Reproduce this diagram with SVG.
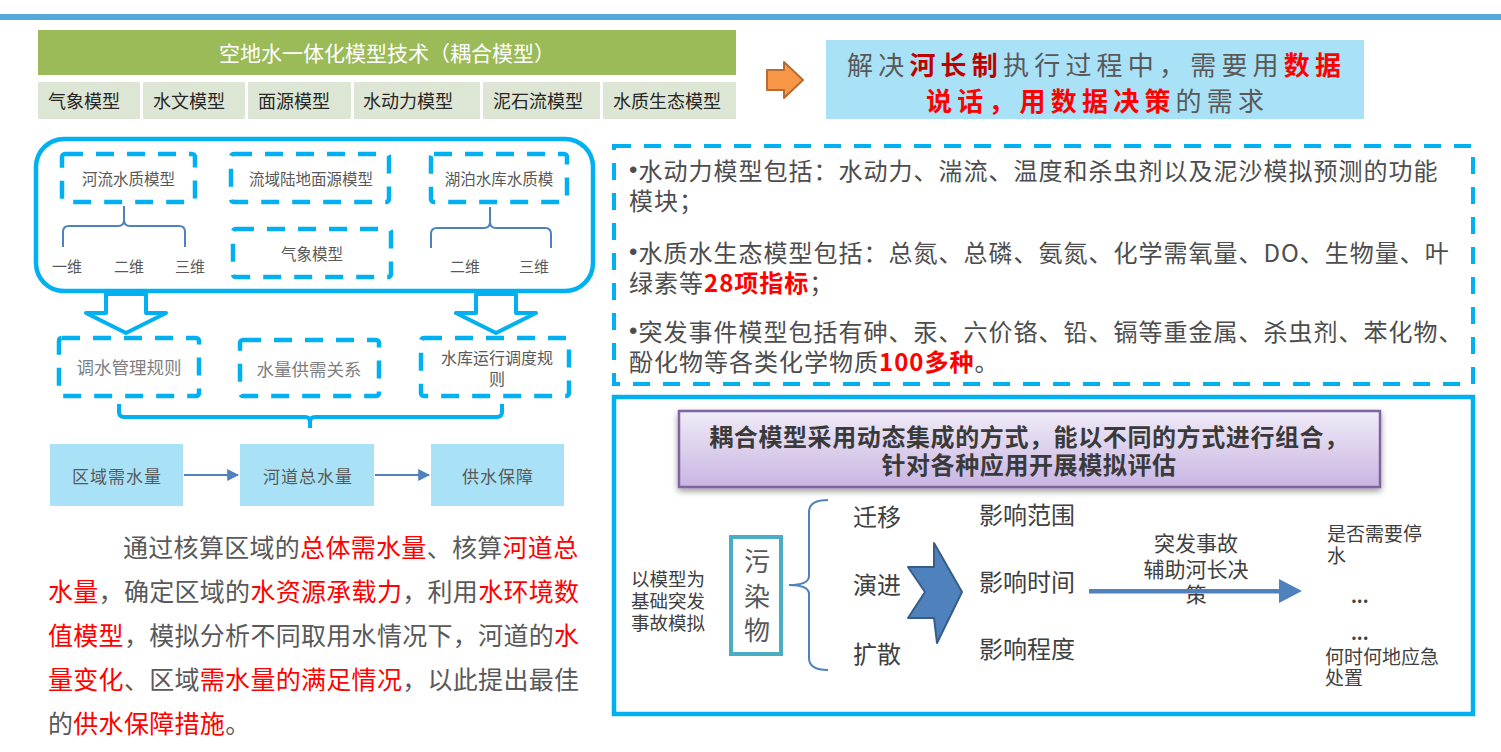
<svg xmlns="http://www.w3.org/2000/svg" width="1501" height="752" viewBox="0 0 1501 752">
<defs>
<style>
text{font-family:"Noto Sans CJK SC","Liberation Sans",sans-serif;dominant-baseline:central}
.bul{font-family:"Liberation Sans",sans-serif}
.dash{fill:#fff;stroke:#00B0F0;stroke-width:4.5;stroke-dasharray:18 13}
.pdash{fill:none;stroke:#00B0F0;stroke-width:4;stroke-dasharray:17 13}
.g{fill:#595959}
.dk{fill:#404040}
.lg{fill:#7F7F7F}
.r{fill:#FF0000}
.rb{fill:#FF0000;font-weight:bold}
.drb{fill:#C00000;font-weight:bold}
.cell{fill:#DDE6D4}
.cy{fill:#A9E2F7}
.brace{fill:none;stroke:#4F81BD;stroke-width:2}
.c{text-anchor:middle}
.conn{stroke:#4F81BD;stroke-width:2;fill:none}
.barrow{fill:#fff;stroke:#00B0F0;stroke-width:4;stroke-linejoin:round}
</style>
<linearGradient id="pg" x1="0" y1="0" x2="0" y2="1"><stop offset="0" stop-color="#F0EBF7"/><stop offset="1" stop-color="#C8B5E2"/></linearGradient>
<filter id="sh" x="-5%" y="-20%" width="110%" height="150%"><feGaussianBlur in="SourceAlpha" stdDeviation="3"/><feOffset dy="3"/><feComponentTransfer><feFuncA type="linear" slope="0.4"/></feComponentTransfer><feMerge><feMergeNode/><feMergeNode in="SourceGraphic"/></feMerge></filter>
<marker id="ah" viewBox="0 0 10 10" refX="9" refY="5" markerWidth="6" markerHeight="6" orient="auto"><path d="M0,0 L10,5 L0,10 z" fill="#4F81BD"/></marker>
</defs>
<rect width="1501" height="752" fill="#fff"/>
<rect x="0" y="14" width="1501" height="6" fill="#55A9DA"/>

<g id="header">
<rect x="38" y="30" width="698" height="45" fill="#9BBB59"/>
<text x="387" y="52" class="c" fill="#fff" font-size="21">空地水一体化模型技术（耦合模型）</text>
</g>
<g id="model-cells" font-size="18" fill="#262626">
<rect class="cell" x="38" y="82" width="102" height="37"/><text x="48" y="100">气象模型</text>
<rect class="cell" x="143" y="82" width="102" height="37"/><text x="153" y="100">水文模型</text>
<rect class="cell" x="248" y="82" width="103" height="37"/><text x="258" y="100">面源模型</text>
<rect class="cell" x="354" y="82" width="126" height="37"/><text x="363" y="100">水动力模型</text>
<rect class="cell" x="483" y="82" width="117" height="37"/><text x="493" y="100">泥石流模型</text>
<rect class="cell" x="603" y="82" width="133" height="37"/><text x="613" y="100">水质生态模型</text>
</g>

<g id="orange-arrow">
<path d="M767,70 L784,70 L784,62 L803,80 L784,98 L784,90 L767,90 Z" fill="#F79646" stroke="#B66D31" stroke-width="2" stroke-linejoin="round"/>
</g>
<g id="goal-box">
<rect x="826" y="40" width="538" height="79" fill="#A9E2F7"/>
<text x="847" y="63" font-size="26" letter-spacing="5.2" class="g"><tspan>解决</tspan><tspan class="drb">河长制</tspan><tspan>执行过程中，需要用</tspan><tspan class="rb">数据</tspan></text>
<text x="926" y="99" font-size="26" letter-spacing="5.2" class="g"><tspan class="rb">说话，用数据决策</tspan><tspan>的需求</tspan></text>
</g>

<g id="model-group">
<rect x="36" y="139" width="557" height="152" rx="28" fill="none" stroke="#00B0F0" stroke-width="4.5"/>
</g>
<g id="river-wq" font-size="15.5">
<rect class="dash" x="62" y="154" width="133" height="48" rx="3"/>
<text x="128.5" y="178" class="c g">河流水质模型</text>
</g>
<g id="basin-land" font-size="15.5">
<rect class="dash" x="231" y="154" width="158" height="48" rx="3"/>
<text x="311" y="178" class="c g">流域陆地面源模型</text>
</g>
<g id="lake-wq" font-size="15.5">
<rect class="dash" x="431" y="154" width="136" height="48" rx="3"/>
<text x="499" y="178" class="c g">湖泊水库水质模</text>
</g>
<g id="meteo" font-size="15.5">
<rect class="dash" x="233" y="229" width="158" height="48" rx="3"/>
<text x="312" y="253" class="c g">气象模型</text>
</g>
<g id="dims" font-size="15" class="g">
<text x="67" y="265" class="c">一维</text>
<text x="129" y="265" class="c">二维</text>
<text x="190" y="265" class="c">三维</text>
<text x="465" y="265" class="c">二维</text>
<text x="534" y="265" class="c">三维</text>
</g>

<g id="rule1" font-size="17.5">
<rect class="dash" x="59" y="338" width="140" height="58" rx="3"/>
<text x="129" y="366" class="c lg">调水管理规则</text>
</g>
<g id="rule2" font-size="17.5">
<rect class="dash" x="240" y="340" width="139" height="56" rx="3"/>
<text x="309" y="368" class="c lg">水量供需关系</text>
</g>
<g id="rule3" font-size="16">
<rect class="dash" x="421" y="338" width="148" height="58" rx="3"/>
<text x="497" y="357" class="c g">水库运行调度规</text>
<text x="497" y="378" class="c g">则</text>
</g>

<g id="demand" font-size="17" letter-spacing="1">
<rect class="cy" x="50" y="444" width="133" height="62"/>
<text x="117" y="475" class="c g">区域需水量</text>
</g>
<g id="river-total" font-size="17" letter-spacing="1">
<rect class="cy" x="240" y="444" width="134" height="62"/>
<text x="308" y="475" class="c g">河道总水量</text>
</g>
<g id="supply" font-size="17" letter-spacing="1">
<rect class="cy" x="431" y="444" width="133" height="62"/>
<text x="498" y="475" class="c g">供水保障</text>
</g>

<g id="connectors">
<path class="brace" d="M63,247 L63,232 Q63,226 69,226 L118,226 Q124,226 124,220 L124,206 M124,220 Q124,226 130,226 L179,226 Q185,226 185,232 L185,247"/>
<path class="brace" d="M431,248 L431,234 Q431,228 437,228 L484,228 Q490,228 490,222 L490,207 M490,222 Q490,228 496,228 L545,228 Q551,228 551,234 L551,248"/>
<path class="barrow" d="M106,294 L146,294 L146,313 L166,313 L126,333 L86,313 L106,313 Z"/>
<path class="barrow" d="M476,294 L516,294 L516,313 L536,313 L496,333 L456,313 L476,313 Z"/>
<path d="M119,404 L119,412 Q119,417 124,417 L305,417 Q310,417 310,422 L310,428 M310,422 Q310,417 315,417 L497,417 Q502,417 502,412 L502,404" fill="none" stroke="#00B0F0" stroke-width="4"/>
<line class="conn" x1="184" y1="475" x2="238" y2="475" marker-end="url(#ah)"/>
<line class="conn" x1="375" y1="475" x2="429" y2="475" marker-end="url(#ah)"/>
</g>

<g id="paragraph" font-size="25" letter-spacing="0.3" class="g">
<text x="123" y="546">通过核算区域的<tspan class="r">总体需水量</tspan>、核算<tspan class="r">河道总</tspan></text>
<text x="48" y="590"><tspan class="r">水量</tspan>，确定区域的<tspan class="r">水资源承载力</tspan>，利用<tspan class="r">水环境数</tspan></text>
<text x="48" y="634"><tspan class="r">值模型</tspan>，模拟分析不同取用水情况下，河道的<tspan class="r">水</tspan></text>
<text x="48" y="678"><tspan class="r">量变化</tspan>、区域<tspan class="r">需水量的满足情况</tspan>，以此提出最佳</text>
<text x="48" y="722">的<tspan class="r">供水保障措施</tspan>。</text>
</g>

<g id="model-notes" font-size="24" letter-spacing="1" fill="#4D4D4D">
<rect class="pdash" x="614" y="146" width="859" height="238"/>
<text x="629" y="169"><tspan class="bul">•</tspan>水动力模型包括：水动力、湍流、温度和杀虫剂以及泥沙模拟预测的功能</text>
<text x="629" y="199">模块；</text>
<text x="629" y="251"><tspan class="bul">•</tspan>水质水生态模型包括：总氮、总磷、氨氮、化学需氧量、DO、生物量、叶</text>
<text x="629" y="281">绿素等<tspan class="rb">28项指标</tspan>；</text>
<text x="629" y="330"><tspan class="bul">•</tspan>突发事件模型包括有砷、汞、六价铬、铅、镉等重金属、杀虫剂、苯化物、</text>
<text x="629" y="360">酚化物等各类化学物质<tspan class="rb">100多种</tspan>。</text>
</g>

<g id="emergency-panel">
<rect x="614" y="397" width="859" height="317" fill="none" stroke="#00B0F0" stroke-width="4.5"/>
</g>
<g id="coupling-title">
<rect x="679" y="411" width="701" height="76" fill="url(#pg)" stroke="#8064A2" stroke-width="2.5" filter="url(#sh)"/>
<text x="1029" y="435" class="c" font-size="24" font-weight="bold" letter-spacing="0.6" fill="#3A3A3A">耦合模型采用动态集成的方式，能以不同的方式进行组合，</text>
<text x="1029" y="463" class="c" font-size="24" font-weight="bold" letter-spacing="0.6" fill="#3A3A3A">针对各种应用开展模拟评估</text>
</g>
<g id="model-basis" font-size="18.5" class="dk">
<text x="668" y="578" class="c">以模型为</text>
<text x="668" y="600" class="c">基础突发</text>
<text x="668" y="622" class="c">事故模拟</text>
</g>
<g id="pollutant">
<rect x="731" y="537" width="50" height="117" fill="#fff" stroke="#4BACC6" stroke-width="4"/>
<text x="757" y="559" class="c g" font-size="26">污</text>
<text x="757" y="594" class="c g" font-size="26">染</text>
<text x="757" y="628" class="c g" font-size="26">物</text>
</g>
<g id="processes" font-size="24" class="dk">
<text x="877" y="515" class="c">迁移</text>
<text x="877" y="583" class="c">演进</text>
<text x="877" y="652" class="c">扩散</text>
</g>
<g id="impacts" font-size="24" class="dk">
<text x="1027" y="513" class="c">影响范围</text>
<text x="1027" y="580" class="c">影响时间</text>
<text x="1027" y="647" class="c">影响程度</text>
</g>
<g id="decision" font-size="21" class="dk">
<text x="1196" y="542" class="c">突发事故</text>
<text x="1196" y="568" class="c">辅助河长决</text>
<text x="1196" y="593" class="c">策</text>
</g>
<g id="outcomes" font-size="19" class="dk">
<text x="1327" y="532">是否需要停</text>
<text x="1327" y="554">水</text>
<text x="1351" y="595" font-weight="bold" font-size="18">...</text>
<text x="1351" y="632" font-weight="bold" font-size="18">...</text>
<text x="1325" y="655">何时何地应急</text>
<text x="1325" y="676">处置</text>
</g>
<g id="emergency-connectors">
<path class="brace" d="M828,500 Q809,500 809,512 L809,576 Q809,585 789,585 Q809,585 809,594 L809,658 Q809,670 828,670"/>
<path d="M934,543 L962,592 L937,643 L934,618 L908,618 L925,592 L908,567 L934,567 Z" fill="#4F81BD" stroke="#385D8A" stroke-width="2" stroke-linejoin="round"/>
<rect x="1089" y="589" width="192" height="4.5" fill="#4F81BD"/>
<path d="M1279,579 L1302,591 L1279,603 Z" fill="#4F81BD"/>
</g>
</svg>
